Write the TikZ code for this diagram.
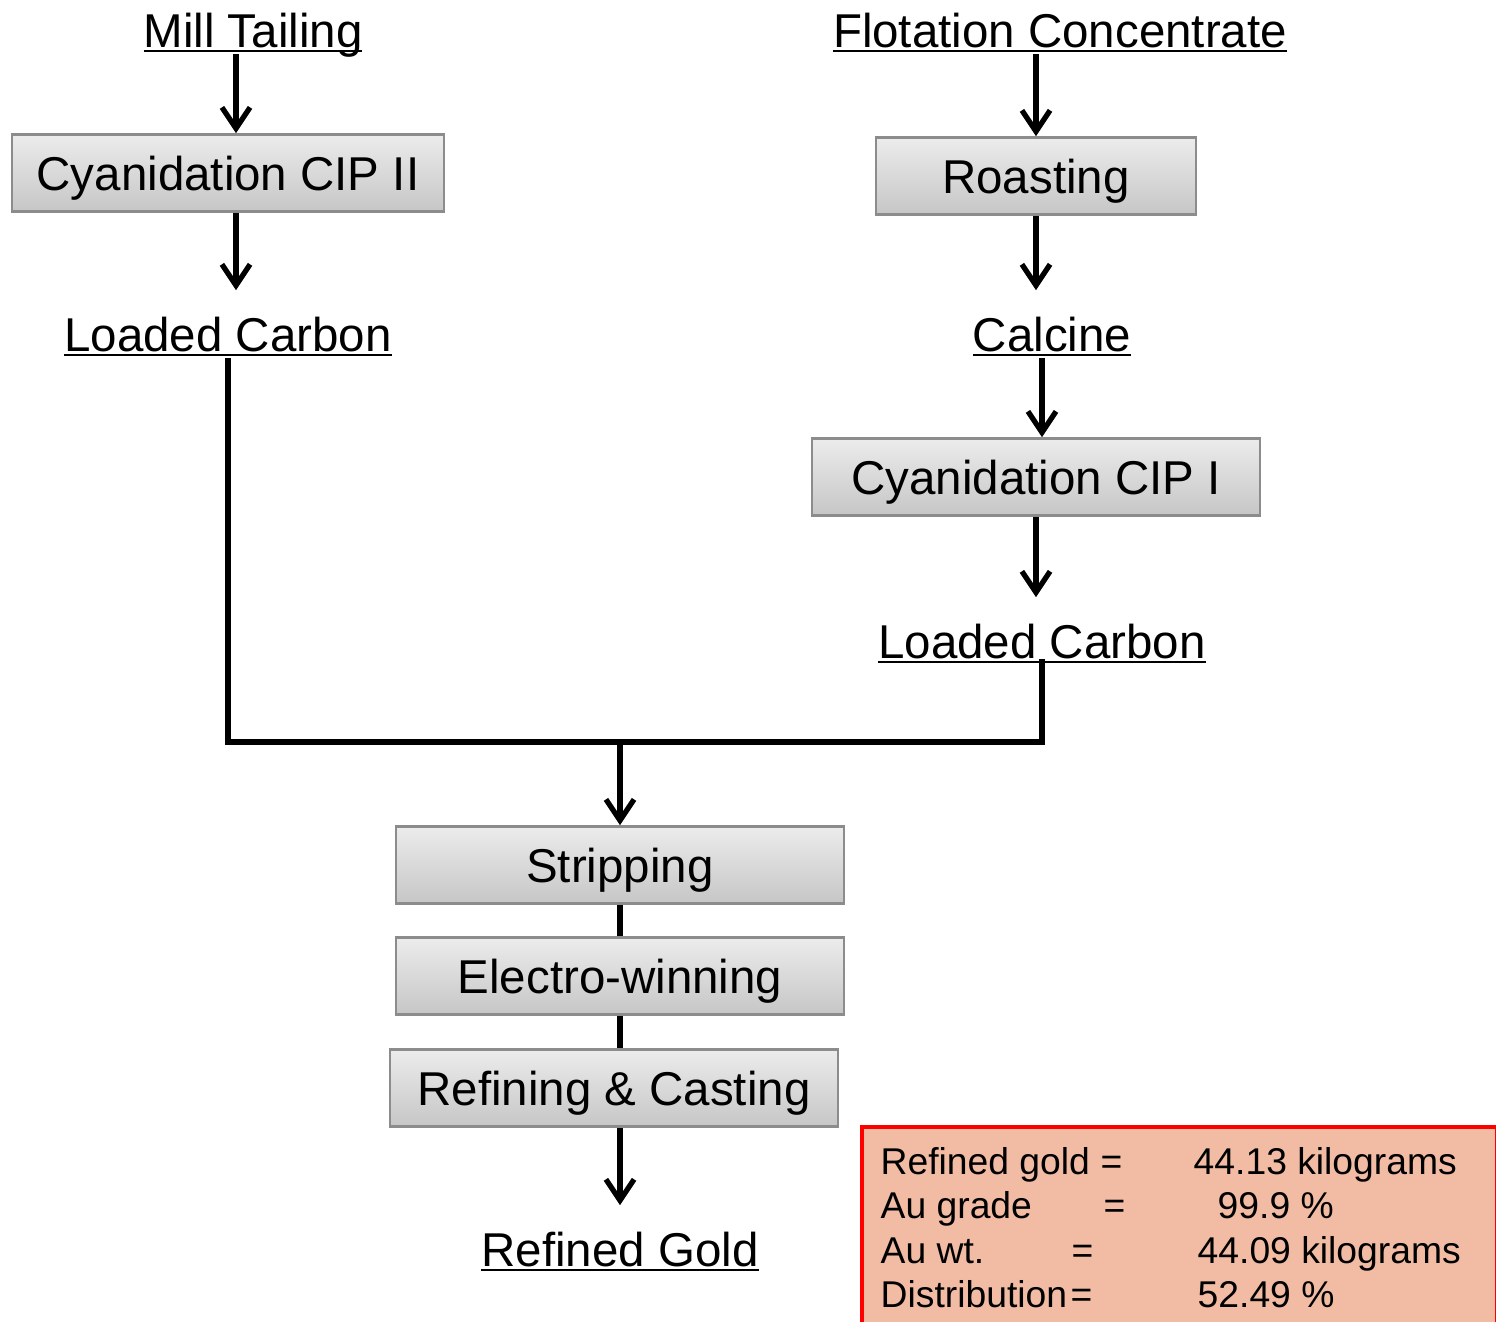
\documentclass[tikz,border=0pt]{standalone}
\usepackage{fontspec}
\setmainfont{Liberation Sans}
\usetikzlibrary{arrows.meta}

\newcommand{\uln}[1]{\setbox0\hbox{#1}\rlap{\rule[-1.5pt]{\wd0}{0.6pt}}\box0}

\definecolor{boxtop}{RGB}{236,236,236}
\definecolor{boxbot}{RGB}{198,198,198}
\definecolor{boxline}{RGB}{140,140,140}
\definecolor{notefill}{RGB}{241,188,163}

\begin{document}
\begin{tikzpicture}[x=0.01cm, y=-0.01cm,
    proc/.style={draw=boxline, line width=0.7pt, top color=boxtop, bottom color=boxbot,
        minimum height=0.77cm, inner sep=0pt, text height=9.7pt, text depth=0pt,
        font=\fontsize{13.5}{16}\selectfont},
    lbl/.style={inner sep=0pt, text height=9.7pt, text depth=0pt, font=\fontsize{13.5}{16}\selectfont},
    note/.style={inner sep=0pt, anchor=base west, font=\fontsize{10.6}{12}\selectfont},
    flow/.style={line width=1.5pt, -{Straight Barb[length=6pt,width=8pt,line width=1.5pt]}},
    link/.style={line width=1.5pt}]
        \useasboundingbox (0,0) rectangle (1496,1322);

        \node[lbl] (mill) at (253, 30) {\uln{Mill Tailing}};
        \node[lbl] (flot) at (1060, 30) {\uln{Flotation Concentrate}};

        \node[proc, minimum width=4.32cm] (cip2) at (228, 173) {Cyanidation CIP II};
        \node[proc, minimum width=3.2cm] (roast) at (1036, 176) {Roasting};

        \node[lbl] (lc2) at (228, 334) {\uln{Loaded Carbon}};
        \node[lbl] (calc) at (1052, 334) {\uln{Calcine}};

        \node[proc, minimum width=4.48cm] (cip1) at (1036, 477) {Cyanidation CIP I};
        \node[lbl] (lc1) at (1042, 641) {\uln{Loaded Carbon}};

        \coordinate (join) at (620, 742);

        \node[proc, minimum width=4.48cm] (strip) at (620, 865) {Stripping};
        \node[proc, minimum width=4.48cm] (ew) at (620, 976) {Electro-winning};
        \node[proc, minimum width=4.48cm] (refc) at (614, 1088) {Refining \& Casting};
        \node[lbl] (gold) at (620, 1249) {\uln{Refined Gold}};

        % left branch arrows sit a little right of the box centre
        \draw[flow, shorten <=0.06cm] ([xshift=0.08cm]cip2.north |- mill.south) -- ([xshift=0.08cm]cip2.north);
        \draw[flow, shorten >=0.26cm] ([xshift=0.08cm]cip2.south) -- ([xshift=0.08cm]cip2.south |- lc2.north);
        \draw[flow, shorten <=0.06cm] (roast.north |- flot.south) -- (roast.north);
        \draw[flow, shorten >=0.26cm] (roast.south) -- (roast.south |- calc.north);
        \draw[flow, shorten <=0.06cm] (calc.south -| lc1) -- (cip1.north -| lc1);
        \draw[flow, shorten >=0.26cm] (cip1.south) -- (cip1.south |- lc1.north);

        \draw[link, shorten <=0.06cm] (lc2.south) -- (lc2.south |- join) -- (lc1.south |- join) -- (lc1.south);
        \draw[flow] (join) -- (strip.north);
        \draw[link] (strip.south) -- (ew.north);
        \draw[link] (ew.south) -- (ew.south |- refc.north);
        \draw[flow, shorten >=0.26cm] (refc.south -| gold) -- (gold.north);

        \node[draw=red, line width=1.2pt, fill=notefill, anchor=north west,
            minimum width=6.35cm, minimum height=2.2cm] (info) at (860, 1125) {};

        \node[note] (l1) at (880, 1175) {Refined gold};
        \node[note] (e1) at (1100, 1175) {=};
        \node[note] (v1) at (1193, 1175) {44.13 kilograms};
        \node[note] (l2) at (880, 1219) {Au grade};
        \node[note] (e2) at (1103, 1219) {=};
        \node[note] (v2) at (1217, 1219) {99.9 \%};
        \node[note] (l3) at (880, 1264) {Au wt.};
        \node[note] (e3) at (1071, 1264) {=};
        \node[note] (v3) at (1197, 1264) {44.09 kilograms};
        \node[note] (l4) at (880, 1308) {Distribution};
        \node[note] (e4) at (1070, 1308) {=};
        \node[note] (v4) at (1197, 1308) {52.49 \%};
    \end{tikzpicture}
\end{document}
